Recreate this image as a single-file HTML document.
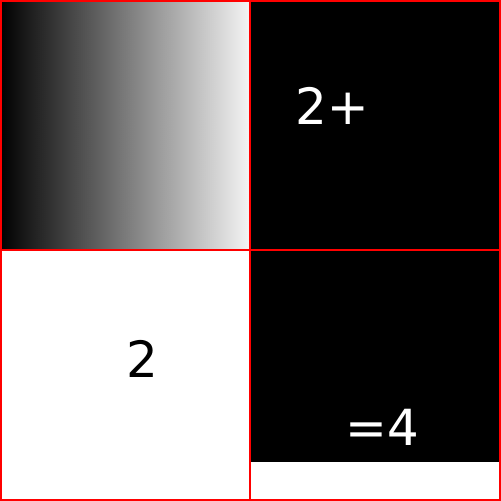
<!DOCTYPE html>
<html><head><meta charset="utf-8"><style>
html,body{margin:0;padding:0;background:#fff;}
svg{display:block;}
text{font-family:"DejaVu Sans","Liberation Sans",sans-serif;font-size:50px;}
</style></head><body>
<svg width="501" height="501" viewBox="0 0 501 501">
<defs><linearGradient id="g" x1="0" x2="1" y1="0" y2="0"><stop offset="0" stop-color="#000"/><stop offset="1" stop-color="#f4f4f4"/></linearGradient></defs>
<rect x="0" y="0" width="250" height="250" fill="url(#g)"/>
<rect x="250" y="0" width="251" height="250" fill="#000"/>
<rect x="0" y="250" width="250" height="251" fill="#fff"/>
<rect x="250" y="250" width="251" height="212" fill="#000"/>
<text x="295" y="124" fill="#fff">2+</text>
<text x="126" y="377" fill="#000">2</text>
<text x="345" y="445" fill="#fff">=4</text>
<g fill="#f00">
<rect x="0" y="0" width="501" height="2"/>
<rect x="0" y="249" width="501" height="2"/>
<rect x="0" y="499" width="501" height="2"/>
<rect x="0" y="0" width="2" height="501"/>
<rect x="249" y="0" width="2" height="501"/>
<rect x="499" y="0" width="2" height="501"/>
</g>
</svg>
</body></html>
